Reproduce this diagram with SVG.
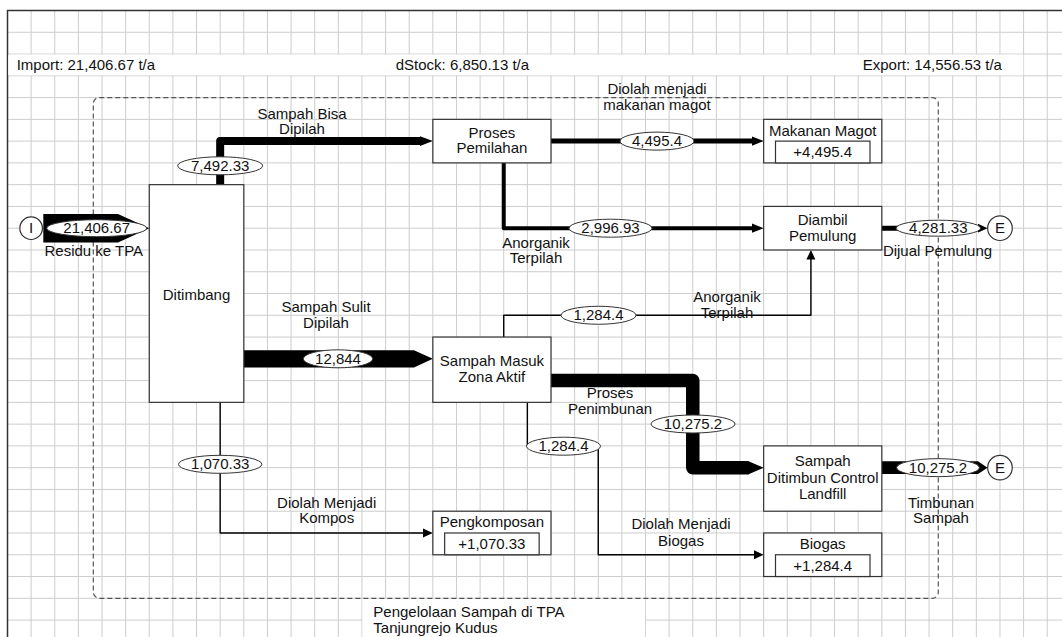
<svg xmlns="http://www.w3.org/2000/svg" width="1062" height="637" viewBox="0 0 1062 637">
<style>
text{font-family:"Liberation Sans",Arial,sans-serif;font-size:15px;fill:#111;text-anchor:middle}
.l{text-anchor:start}
.grid{stroke:#cdcdcd;stroke-width:1;fill:none}
.box{fill:#fff;stroke:#333;stroke-width:1.2}
.ell{fill:#fff;stroke:#333;stroke-width:1}
.fl{fill:none;stroke:#000;stroke-linejoin:round}
.hd{fill:#000}
.circ{fill:#fff;stroke:#333;stroke-width:1.2}
</style>
<rect x="0" y="0" width="1062" height="637" fill="#fff"/>
<g id="grid">
<path class="grid" d="M31.13 10.5V637M54.76 10.5V637M78.39 10.5V637M102.02 10.5V637M125.65 10.5V637M149.28 10.5V637M172.91 10.5V637M196.54 10.5V637M220.17 10.5V637M243.8 10.5V637M267.43 10.5V637M291.06 10.5V637M314.69 10.5V637M338.32 10.5V637M361.95 10.5V637M385.58 10.5V637M409.21 10.5V637M432.84 10.5V637M456.47 10.5V637M480.1 10.5V637M503.73 10.5V637M527.36 10.5V637M550.99 10.5V637M574.62 10.5V637M598.25 10.5V637M621.88 10.5V637M645.51 10.5V637M669.14 10.5V637M692.77 10.5V637M716.4 10.5V637M740.03 10.5V637M763.66 10.5V637M787.29 10.5V637M810.92 10.5V637M834.55 10.5V637M858.18 10.5V637M881.81 10.5V637M905.44 10.5V637M929.07 10.5V637M952.7 10.5V637M976.33 10.5V637M999.96 10.5V637M1023.59 10.5V637M1047.22 10.5V637"/>
<path class="grid" d="M7.5 32.27H1062M7.5 54.04H1062M7.5 75.81H1062M7.5 97.58H1062M7.5 119.35H1062M7.5 141.12H1062M7.5 162.89H1062M7.5 184.66H1062M7.5 206.43H1062M7.5 228.2H1062M7.5 249.97H1062M7.5 271.74H1062M7.5 293.51H1062M7.5 315.28H1062M7.5 337.05H1062M7.5 358.82H1062M7.5 380.59H1062M7.5 402.36H1062M7.5 424.13H1062M7.5 445.9H1062M7.5 467.67H1062M7.5 489.44H1062M7.5 511.21H1062M7.5 532.98H1062M7.5 554.75H1062M7.5 576.52H1062M7.5 598.29H1062M7.5 620.06H1062"/>
<path d="M7.5 637V10.5H1062" fill="none" stroke="#333" stroke-width="1.5"/>
<rect x="8.3" y="54.6" width="1015" height="20.7" fill="#fff"/>
<rect x="362.5" y="598.9" width="282.6" height="40" fill="#fff"/>
</g>
<g id="system-boundary">
<rect x="93.3" y="97.58" width="845" height="500.7" rx="6" fill="none" stroke="#555" stroke-width="1.2" stroke-dasharray="5 3"/>
<text class="l" x="16.7" y="70">Import: 21,406.67 t/a</text>
<text class="l" x="395.7" y="70">dStock: 6,850.13 t/a</text>
<text class="l" x="862.7" y="70">Export: 14,556.53 t/a</text>
<text class="l" x="373.3" y="617">Pengelolaan Sampah di TPA</text>
<text class="l" x="373.3" y="632.5">Tanjungrejo Kudus</text>
</g>
<g id="connectors">
<!-- import -->
<polygon class="hd" points="43.3,214 118,214 149.28,228.2 118,242.5 43.3,242.5"/>
<ellipse class="ell" cx="96.7" cy="228.2" rx="50" ry="8.5"/>
<text x="96.7" y="233.2">21,406.67</text>
<text x="93.8" y="256">Residu ke TPA</text>
<!-- 7,492.33 -->
<path class="fl" stroke-width="8" d="M220.17 184.66V141.12H421"/>
<polygon class="hd" points="420,136.3 432.84,141.12 420,145.9"/>
<ellipse class="ell" cx="220.17" cy="165.8" rx="42.5" ry="9"/>
<text x="220.17" y="170.8">7,492.33</text>
<text x="302" y="119">Sampah Bisa</text>
<text x="302" y="134">Dipilah</text>
<!-- 4,495.4 -->
<path class="fl" stroke-width="5" d="M550.99 141.12H753"/>
<polygon class="hd" points="752,136.4 763.66,141.12 752,145.8"/>
<ellipse class="ell" cx="657" cy="141.12" rx="37" ry="9"/>
<text x="657" y="146.1">4,495.4</text>
<text x="657" y="94.3">Diolah menjadi</text>
<text x="657" y="110">makanan magot</text>
<!-- 2,996.93 -->
<path class="fl" stroke-width="4" stroke-linejoin="miter" d="M503.73 162.89V228.2H753"/>
<polygon class="hd" points="752,223.6 763.66,228.2 752,232.8"/>
<ellipse class="ell" cx="610.5" cy="228.2" rx="41.5" ry="9"/>
<text x="610.5" y="233.2">2,996.93</text>
<text x="536" y="248">Anorganik</text>
<text x="536" y="263">Terpilah</text>
<!-- 4,281.33 -->
<path class="fl" stroke-width="5" d="M881.81 228.2H980"/>
<polygon class="hd" points="978,223.8 987.5,228.2 978,232.6"/>
<ellipse class="ell" cx="938.3" cy="228.2" rx="42.3" ry="8"/>
<text x="938.3" y="233.2">4,281.33</text>
<text x="937.5" y="256">Dijual Pemulung</text>
<!-- 12,844 -->
<polygon class="hd" points="243.8,350.2 414,350.2 432.84,358.82 414,367.4 243.8,367.4"/>
<ellipse class="ell" cx="338" cy="358.82" rx="34.7" ry="9"/>
<text x="338" y="363.8">12,844</text>
<text x="326" y="312.3">Sampah Sulit</text>
<text x="326" y="327.7">Dipilah</text>
<!-- 1,284.4 to Diambil -->
<path class="fl" stroke-width="1.4" stroke-linejoin="miter" d="M503.73 337.05V315.28H810.92V259"/>
<polygon class="hd" points="806.4,259.5 810.92,249.97 815.4,259.5"/>
<ellipse class="ell" cx="598.5" cy="315.28" rx="37.5" ry="9"/>
<text x="598.5" y="320.3">1,284.4</text>
<text x="727" y="302">Anorganik</text>
<text x="727" y="317.5">Terpilah</text>
<!-- 10,275.2 landfill -->
<path class="fl" stroke-width="13.5" d="M550.99 380.59H692.77V467.67H748.5"/>
<polygon class="hd" points="748,460.9 763.66,467.67 748,474.4"/>
<ellipse class="ell" cx="693" cy="424" rx="42" ry="9"/>
<text x="693" y="429">10,275.2</text>
<text x="610" y="398.3">Proses</text>
<text x="610" y="414">Penimbunan</text>
<!-- 10,275.2 out -->
<polygon class="hd" points="881.81,461.3 978,461.3 987.5,467.67 978,474 881.81,474"/>
<ellipse class="ell" cx="938" cy="467.67" rx="41.4" ry="9"/>
<text x="938" y="472.7">10,275.2</text>
<text x="941" y="507.7">Timbunan</text>
<text x="941" y="522.7">Sampah</text>
<!-- 1,070.33 -->
<path class="fl" stroke-width="1.4" stroke-linejoin="miter" d="M220.17 402.36V532.98H423"/>
<polygon class="hd" points="423,528.5 432.84,532.98 423,537.5"/>
<ellipse class="ell" cx="220.17" cy="464.3" rx="41.7" ry="9"/>
<text x="220.17" y="469.3">1,070.33</text>
<text x="326.7" y="507.7">Diolah Menjadi</text>
<text x="326.7" y="523.3">Kompos</text>
<!-- 1,284.4 biogas -->
<path class="fl" stroke-width="1.4" stroke-linejoin="miter" d="M527.36 402.36V445.9H598.25V554.75H754"/>
<polygon class="hd" points="754,550.3 763.66,554.75 754,559.2"/>
<ellipse class="ell" cx="563.5" cy="446.2" rx="37" ry="9"/>
<text x="563.5" y="451.2">1,284.4</text>
<text x="681" y="529.3">Diolah Menjadi</text>
<text x="681" y="545.7">Biogas</text>
</g>
<g id="import-I">
<circle class="circ" cx="31.13" cy="228.2" r="11.3"/>
<text x="31.13" y="233.2">I</text>
</g>
<g id="export-E1">
<circle class="circ" cx="999.96" cy="228.2" r="12.3"/>
<text x="999.96" y="233.2">E</text>
</g>
<g id="export-E2">
<circle class="circ" cx="999.96" cy="467.67" r="12.3"/>
<text x="999.96" y="472.7">E</text>
</g>
<g id="ditimbang">
<rect class="box" x="149.28" y="184.66" width="94.52" height="217.7"/>
<text x="196.5" y="300">Ditimbang</text>
</g>
<g id="proses-pemilahan">
<rect class="box" x="432.84" y="119.35" width="118.15" height="43.54"/>
<text x="491.9" y="137.7">Proses</text>
<text x="491.9" y="153">Pemilahan</text>
</g>
<g id="makanan-magot">
<rect class="box" x="763.66" y="119.35" width="118.15" height="43.54"/>
<rect class="box" x="775.5" y="141.12" width="94.5" height="21.77"/>
<text x="822.7" y="136">Makanan Magot</text>
<text x="822.7" y="157">+4,495.4</text>
</g>
<g id="diambil-pemulung">
<rect class="box" x="763.66" y="206.43" width="118.15" height="43.54"/>
<text x="822.7" y="225">Diambil</text>
<text x="822.7" y="240.7">Pemulung</text>
</g>
<g id="sampah-masuk">
<rect class="box" x="432.84" y="337.05" width="118.15" height="65.31"/>
<text x="491.9" y="366">Sampah Masuk</text>
<text x="491.9" y="381.7">Zona Aktif</text>
</g>
<g id="sampah-ditimbun">
<rect class="box" x="763.66" y="445.9" width="118.15" height="65.31"/>
<text x="822.7" y="466">Sampah</text>
<text x="822.7" y="482.5">Ditimbun Control</text>
<text x="822.7" y="498.5">Landfill</text>
</g>
<g id="pengkomposan">
<rect class="box" x="432.84" y="511.21" width="118.15" height="43.54"/>
<rect class="box" x="444.65" y="532.98" width="94.5" height="21.77"/>
<text x="491.9" y="526.7">Pengkomposan</text>
<text x="491.9" y="549">+1,070.33</text>
</g>
<g id="biogas">
<rect class="box" x="763.66" y="532.98" width="118.15" height="43.54"/>
<rect class="box" x="775.5" y="554.75" width="94.5" height="21.77"/>
<text x="822.7" y="549.3">Biogas</text>
<text x="822.7" y="570.7">+1,284.4</text>
</g>
</svg>
